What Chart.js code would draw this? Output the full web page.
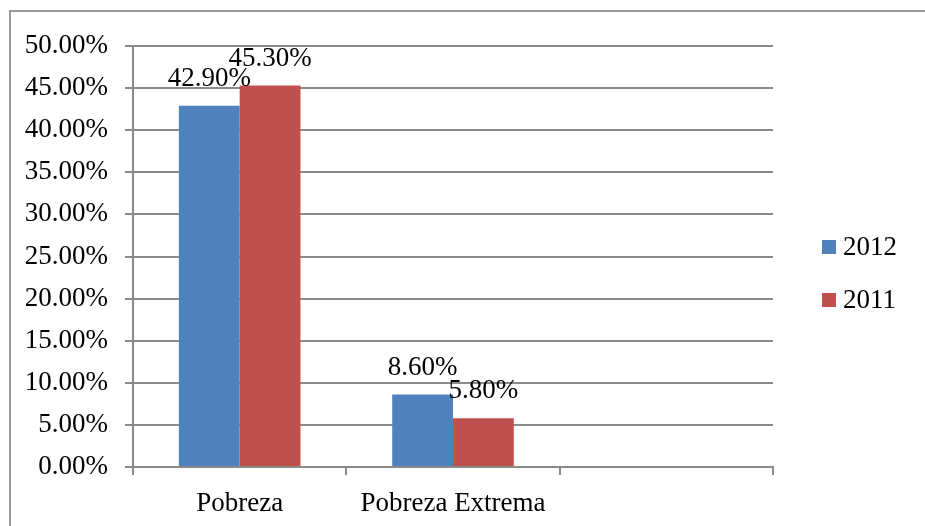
<!DOCTYPE html>
<html>
<head>
<meta charset="utf-8">
<script src="https://cdn.jsdelivr.net/npm/chart.js@4"></script>
<style>
  html, body { margin: 0; padding: 0; background: #fff; }
  #wrap { position: relative; width: 925px; height: 526px; }
  #frame {
    position: absolute; left: 9px; top: 10px; right: 0; bottom: 0;
    border-left: 2px solid #999; border-top: 2px solid #999;
  }
  canvas { position: absolute; left: 0; top: 0; }
</style>
</head>
<body>
<div id="wrap">
  <div id="frame"></div>
  <canvas id="myChart" width="925" height="526"></canvas>
</div>
<script>
// ═══════════════════════════════════════
//  DATOS
// ═══════════════════════════════════════

const categories = ['Pobreza', 'Pobreza Extrema', ''];
const serie2012  = [42.9, 8.6, null];
const serie2011  = [45.3, 5.8, null];
const seriesNames = ['2012', '2011'];
const seriesColors = ['#4F81BD', '#C0504D'];

const FONT = '"Liberation Serif", "Times New Roman", serif';
const GRID = '#8a8a8a';

const fmt = v => v.toFixed(2) + '%';

// ═══════════════════════════════════════
//  ETIQUETAS SOBRE LAS BARRAS
// ═══════════════════════════════════════

const barLabels = {
  id: 'barLabels',
  afterDatasetsDraw(chart) {
    const ctx = chart.ctx;
    ctx.save();
    ctx.font = '27px ' + FONT;
    ctx.fillStyle = '#000';
    ctx.textAlign = 'center';
    ctx.textBaseline = 'alphabetic';
    chart.data.datasets.forEach((ds, i) => {
      chart.getDatasetMeta(i).data.forEach((bar, j) => {
        const v = ds.data[j];
        if (v === null || v === undefined) return;
        ctx.fillText(fmt(v), bar.x, bar.y - 20);
      });
    });
    ctx.restore();
  }
};

// ═══════════════════════════════════════
//  LEYENDA
// ═══════════════════════════════════════

const sideLegend = {
  id: 'sideLegend',
  afterDraw(chart) {
    const ctx = chart.ctx;
    ctx.save();
    ctx.font = '27px ' + FONT;
    ctx.textBaseline = 'middle';
    ctx.textAlign = 'left';
    chart.data.datasets.forEach((ds, i) => {
      const y = 247 + i * 53;
      ctx.fillStyle = ds.backgroundColor;
      ctx.fillRect(822, y - 7, 14, 14);
      ctx.fillStyle = '#000';
      ctx.fillText(ds.label, 843, y + 1);
    });
    ctx.restore();
  }
};

// ═══════════════════════════════════════
//  GRÁFICO
// ═══════════════════════════════════════

const ctx = document.getElementById('myChart').getContext('2d');

new Chart(ctx, {
  type: 'bar',
  data: {
    labels: categories,
    datasets: [
      { label: seriesNames[0], data: serie2012, backgroundColor: seriesColors[0] },
      { label: seriesNames[1], data: serie2011, backgroundColor: seriesColors[1] }
    ]
  },
  options: {
    responsive: false,
    animation: false,
    categoryPercentage: 0.57,
    barPercentage: 1.0,
    layout: { padding: { left: 0, top: 46, right: 152, bottom: 0 } },
    plugins: {
      legend: { display: false },
      tooltip: { enabled: false }
    },
    scales: {
      x: {
        afterFit: s => { s.height = 59; },
        grid: {
          offset: true,
          drawOnChartArea: false,
          tickLength: 8,
          color: GRID,
          lineWidth: 2
        },
        border: { color: GRID, width: 2 },
        ticks: { color: '#000', padding: 13, font: { family: FONT, size: 27 } }
      },
      y: {
        min: 0,
        max: 50,
        afterFit: s => { s.width = 133; },
        ticks: {
          stepSize: 5,
          color: '#000',
          padding: 17,
          font: { family: FONT, size: 27 },
          callback: v => fmt(v)
        },
        grid: { color: GRID, lineWidth: 2, tickLength: 8 },
        border: { color: GRID, width: 2 }
      }
    }
  },
  plugins: [barLabels, sideLegend]
});
</script>
</body>
</html>
